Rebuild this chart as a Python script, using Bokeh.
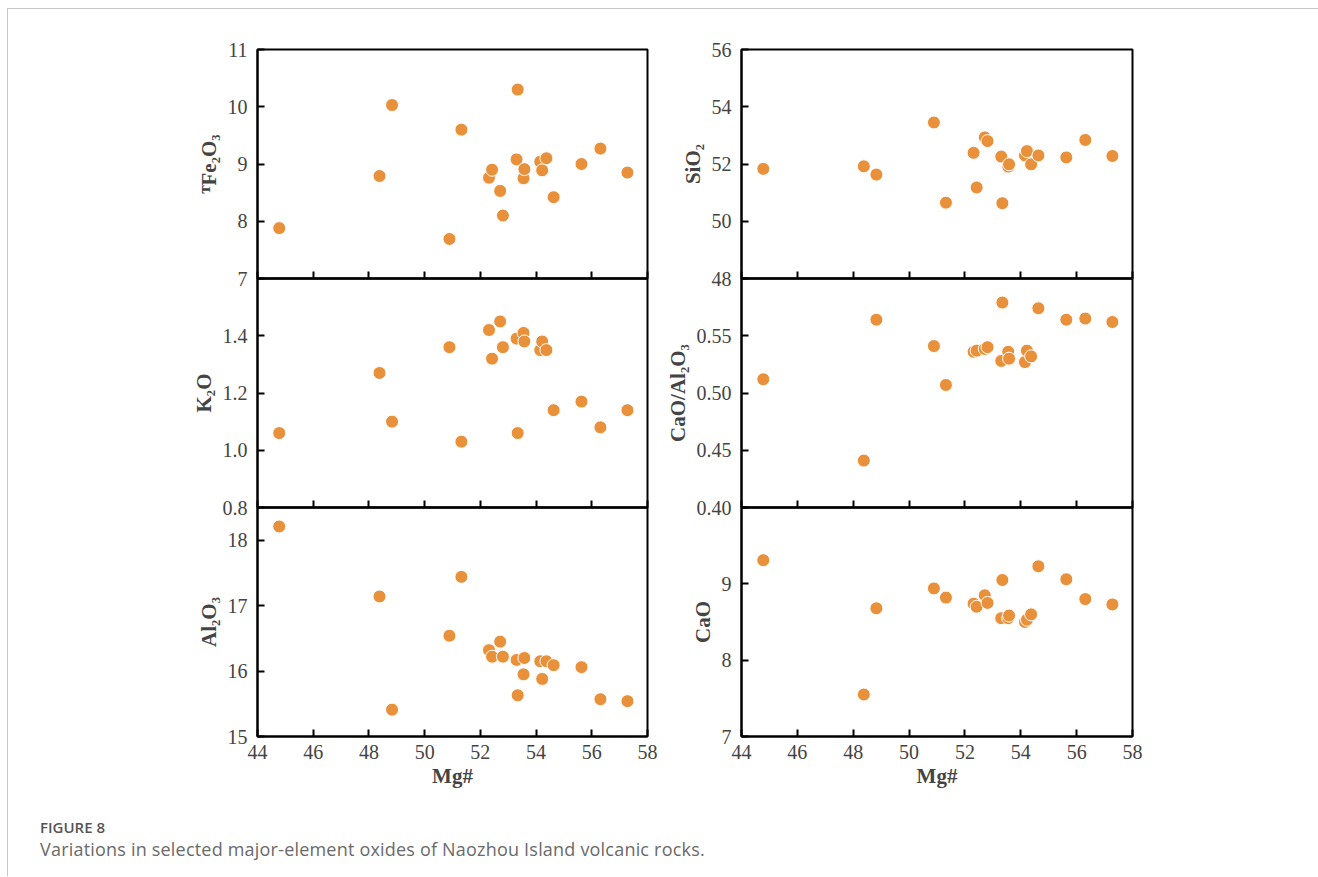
from bokeh.plotting import figure
from bokeh.models import FixedTicker, Div, Range1d, PrintfTickFormatter
from bokeh.layouts import column, row
from bokeh.embed import file_html
from bokeh.resources import INLINE

# ---------------- data ----------------
mg = [44.78, 48.38, 48.83, 50.89, 51.32, 52.31, 52.42, 52.71, 52.81, 53.30,
      53.34, 53.55, 53.58, 54.15, 54.22, 54.37, 54.63, 55.63, 56.31, 57.28]
tfe2o3 = [7.88, 8.79, 10.03, 7.69, 9.60, 8.76, 8.90, 8.53, 8.10, 9.08,
          10.30, 8.75, 8.91, 9.04, 8.89, 9.10, 8.42, 9.00, 9.27, 8.85]
k2o = [1.06, 1.27, 1.10, 1.36, 1.03, 1.42, 1.32, 1.45, 1.36, 1.39,
       1.06, 1.41, 1.38, 1.35, 1.38, 1.35, 1.14, 1.17, 1.08, 1.14]
al2o3 = [18.21, 17.14, 15.41, 16.54, 17.44, 16.32, 16.22, 16.45, 16.22, 16.17,
         15.63, 15.95, 16.20, 16.15, 15.88, 16.15, 16.09, 16.06, 15.57, 15.54]
sio2 = [51.83, 51.92, 51.63, 53.45, 50.65, 52.39, 51.18, 52.93, 52.80, 52.26,
        50.63, 51.91, 51.99, 52.30, 52.45, 51.99, 52.30, 52.23, 52.84, 52.28]
cao_al2o3 = [0.512, 0.441, 0.564, 0.541, 0.507, 0.536, 0.537, 0.5385, 0.540, 0.528,
             0.579, 0.536, 0.530, 0.527, 0.537, 0.532, 0.574, 0.564, 0.565, 0.562]
cao = [9.31, 7.55, 8.68, 8.94, 8.82, 8.74, 8.70, 8.85, 8.75, 8.55,
       9.05, 8.55, 8.585, 8.50, 8.53, 8.60, 9.23, 9.06, 8.80, 8.73]

x_ticks = [44, 46, 48, 50, 52, 54, 56, 58]
x_range = (44, 58)

tfe2o3_range, tfe2o3_ticks = (7, 11), [7, 8, 9, 10, 11]
k2o_range, k2o_ticks = (0.8, 1.6), [0.8, 1.0, 1.2, 1.4]
al2o3_range, al2o3_ticks = (15, 18.5), [15, 16, 17, 18]
sio2_range, sio2_ticks = (48, 56), [48, 50, 52, 54, 56]
ratio_range, ratio_ticks = (0.40, 0.60), [0.40, 0.45, 0.50, 0.55]
cao_range, cao_ticks = (7, 10), [7, 8, 9]

labels = {
    "tfe": "\u1d40Fe\u2082O\u2083",
    "sio2": "SiO\u2082",
    "k2o": "K\u2082O",
    "ratio": "CaO/Al\u2082O\u2083",
    "al2o3": "Al\u2082O\u2083",
    "cao": "CaO",
}
x_label = "Mg#"

# ---------------- style ----------------
MARK = "#E8913A"
SERIF = "Liberation Serif"
FRAME_W_L, FRAME_W_R, FRAME_H = 390, 391, 229
OVER = 12


def panel(yv, yr, yticks, yfmt, ylabel, left_b, right_b, pos):
    top_b = 40 if pos == "top" else OVER
    bot_b = 60 if pos == "bottom" else OVER
    fw = FRAME_W_L if left_b > 150 else FRAME_W_R
    p = figure(width=left_b + fw + right_b, height=top_b + FRAME_H + bot_b,
               x_range=Range1d(*x_range), y_range=Range1d(*yr),
               output_backend="svg", toolbar_location=None,
               min_border_left=left_b, min_border_right=right_b,
               min_border_top=top_b, min_border_bottom=bot_b)
    p.border_fill_color = None
    p.background_fill_color = None
    p.outline_line_color = "black"
    p.outline_line_width = 2
    p.grid.visible = False
    p.scatter(mg, yv, size=13, fill_color=MARK, line_color="white", line_width=1)

    xa = p.xaxis[0]
    xa.ticker = FixedTicker(ticks=x_ticks)
    xa.minor_tick_line_color = None
    xa.major_tick_in = 7
    xa.major_tick_out = 0
    xa.major_tick_line_width = 2
    xa.axis_line_width = 2
    if pos == "bottom":
        xa.axis_label = x_label
        xa.axis_label_text_font = SERIF
        xa.axis_label_text_font_size = "21px"
        xa.axis_label_text_font_style = "bold"
        xa.axis_label_standoff = 2
        xa.major_label_text_font = SERIF
        xa.major_label_text_font_size = "20px"
        xa.major_label_standoff = 8
    else:
        xa.major_label_text_font_size = "1px"
        xa.major_label_text_color = None
        xa.major_label_standoff = 0

    ya = p.yaxis[0]
    ya.ticker = FixedTicker(ticks=yticks)
    ya.formatter = PrintfTickFormatter(format=yfmt)
    ya.minor_tick_line_color = None
    ya.major_tick_in = 7
    ya.major_tick_out = 0
    ya.major_tick_line_width = 2
    ya.axis_line_width = 2
    ya.major_label_text_font = SERIF
    ya.major_label_text_font_size = "20px"
    ya.major_label_standoff = 10
    ya.axis_label = ylabel
    ya.axis_label_text_font = SERIF
    ya.axis_label_text_font_size = "21px"
    ya.axis_label_text_font_style = "bold"
    ya.axis_label_standoff = 4
    if pos != "top":
        p.margin = (-2 * OVER, 0, 0, 0)
    return p


LB, RB = 249, 12
LB2, RB2 = 82, 20

l1 = panel(tfe2o3, tfe2o3_range, tfe2o3_ticks, "%d", labels["tfe"], LB, RB, "top")
l2 = panel(k2o, k2o_range, k2o_ticks, "%.1f", labels["k2o"], LB, RB, "mid")
l3 = panel(al2o3, al2o3_range, al2o3_ticks, "%d", labels["al2o3"], LB, RB, "bottom")
r1 = panel(sio2, sio2_range, sio2_ticks, "%d", labels["sio2"], LB2, RB2, "top")
r2 = panel(cao_al2o3, ratio_range, ratio_ticks, "%.2f", labels["ratio"], LB2, RB2, "mid")
r3 = panel(cao, cao_range, cao_ticks, "%d", labels["cao"], LB2, RB2, "bottom")

grid = row(column(l1, l2, l3), column(r1, r2, r3))

caption = Div(
    text=('<div style="font-family:\'Open Sans\';font-size:15px;line-height:20px;'
          'font-weight:600;color:#555555;">FIGURE 8</div>'
          '<div style="font-family:\'Open Sans\';font-size:18px;line-height:24px;'
          'color:#6a6a6a;letter-spacing:0.2px;">Variations in selected major-element oxides of '
          'Naozhou Island volcanic rocks.</div>'),
    width=1310, height=70,
    styles={"padding-left": "27px", "padding-top": "16px", "box-sizing": "border-box"},
)

page = column(grid, caption, margin=(8, 0, 0, 7),
              styles={"border-top": "1px solid #c8c8c8", "border-left": "1px solid #c8c8c8"})

open("out.html", "w").write(file_html(page, INLINE))
